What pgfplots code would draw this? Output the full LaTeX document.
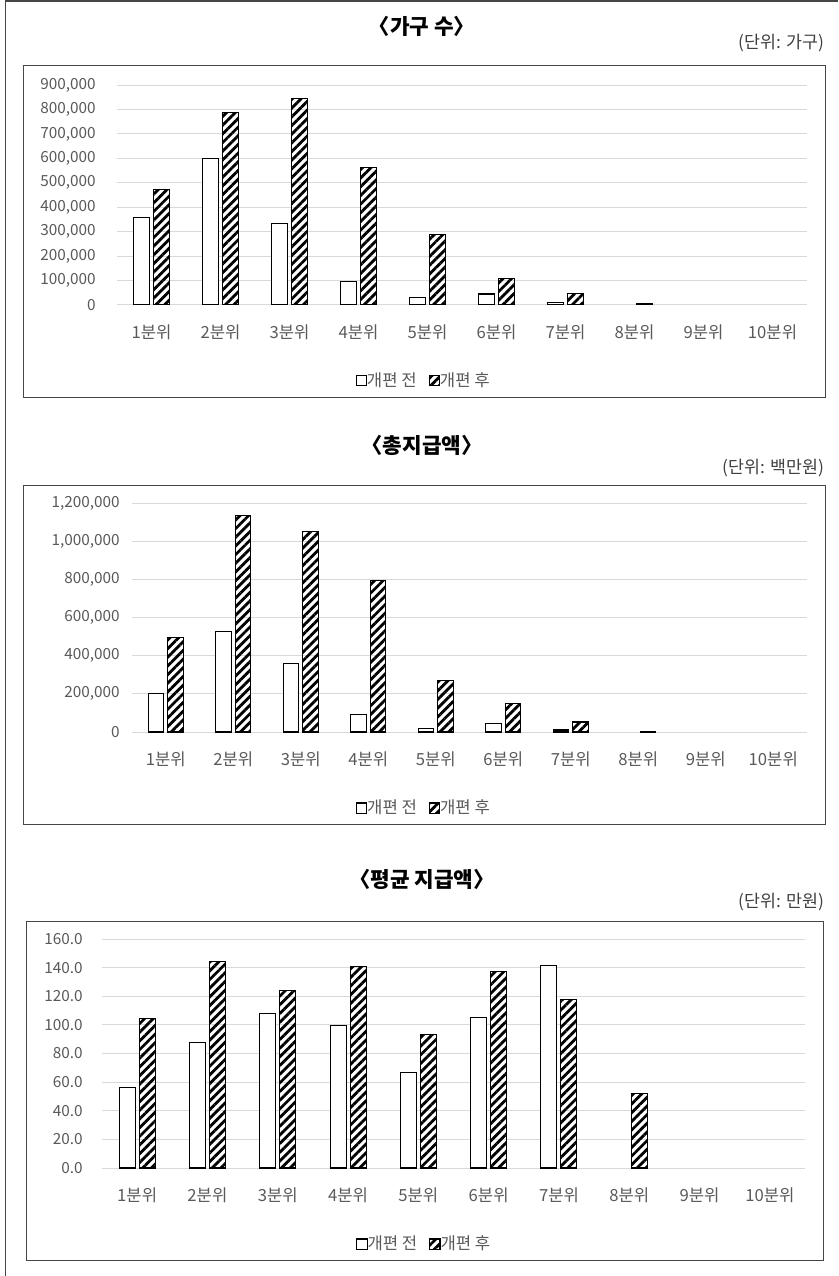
\documentclass[border=0pt]{standalone}
\usepackage{fontspec}
\setmainfont{Noto Sans CJK KR}
\usepackage{pgfplots}
\pgfplotsset{compat=1.18}
\usetikzlibrary{patterns.meta}

\definecolor{gridgray}{RGB}{217,217,217}
\definecolor{labgray}{RGB}{89,89,89}
\definecolor{framegray}{RGB}{70,70,70}

% bar styles
\tikzset{
  before/.style={ybar, draw=black, line width=0.8pt, fill=white},
  after/.style={ybar, draw=black, line width=0.8pt,
    pattern={Lines[angle=45,distance=4.6pt,line width=2.1pt]}, pattern color=black},
}

\pgfplotsset{
  panel/.style={
    scale only axis,
    xmin=0.5, xmax=10.5,
    xtick={1,...,10},
    xticklabels={1분위,2분위,3분위,4분위,5분위,6분위,7분위,8분위,9분위,10분위},
    axis line style={draw=none},
    major tick length=0pt,
    ymajorgrids,
    grid style={draw=gridgray, line width=0.75pt},
    tick label style={text=labgray, inner sep=0pt},
    yticklabel style={font=\fontsize{11.5}{13}\selectfont},
    xticklabel style={font=\fontsize{12.5}{14}\selectfont, anchor=center, yshift=-20.25pt},
    scaled y ticks=false,
    /pgf/number format/assume math mode=true,
    legend columns=-1,
    legend style={draw=none, fill=none, anchor=center,
      font=\fontsize{12.5}{14}\selectfont, text=labgray,
      /tikz/every even column/.append style={column sep=7pt},
      /tikz/every odd column/.append style={column sep=-2pt}},
    legend image code/.code={\draw[#1] (0pt,-3.8pt) rectangle (7.6pt,3.8pt);},
  },
}

\begin{document}
\begin{tikzpicture}

\begin{scope}[x=0.75pt,y=-0.75pt]
  \useasboundingbox (0,0) rectangle (838,1276);
  % outer cell lines
  \draw[framegray, line width=1.5pt] (5,1) -- (838,1);
  \draw[framegray, line width=0.75pt] (5,1) -- (5,1276);
  % chart frames
  \draw[framegray, line width=0.75pt] (23,66) rectangle (825,397);
  \draw[framegray, line width=0.75pt] (23,485) rectangle (825,824);
  \draw[framegray, line width=0.75pt] (26,921) rectangle (823,1260);
  % titles and units
  \node[font=\fontsize{16}{18}\selectfont\bfseries] at (422,26) {〈가구 수〉};
  \node[anchor=east, font=\fontsize{13}{15}\selectfont, text=black!75] at (829,43) {(단위:\hspace{0.3em}가구)};
  \node[font=\fontsize{16}{18}\selectfont\bfseries] at (422,445) {〈총지급액〉};
  \node[anchor=east, font=\fontsize{13}{15}\selectfont, text=black!75] at (829,468) {(단위:\hspace{0.3em}백만원)};
  \node[font=\fontsize{16}{18}\selectfont\bfseries] at (422,879) {〈평균 지급액〉};
  \node[anchor=east, font=\fontsize{13}{15}\selectfont, text=black!75] at (829,902) {(단위:\hspace{0.3em}만원)};
\end{scope}

% ---- 가구 수 ----
\begin{axis}[panel,
  anchor=south west, at={(87.75pt,-228.75pt)},
  width=517.5pt, height=165pt,
  ymin=0, ymax=900000,
  ytick={0,100000,...,900000},
  yticklabel style={anchor=east, xshift=-15.75pt,
    /pgf/number format/.cd, fixed, 1000 sep={,}},
  legend style={at={(0.445,-0.345)}},
]
\addplot[before, bar width=12pt, bar shift=-7.35pt] coordinates {
  (1,358000) (2,599000) (3,334000) (4,95000) (5,31000) (6,45000) (7,9500)};
\addplot[after, bar width=12pt, bar shift=7.35pt] coordinates {
  (1,474000) (2,787000) (3,845000) (4,563000) (5,290000) (6,108000) (7,46000) (8,6000)};
\legend{개편 전,개편 후}
\end{axis}

% ---- 총지급액 ----
\begin{axis}[panel,
  anchor=south west, at={(99pt,-549pt)},
  width=506.25pt, height=171.75pt,
  ymin=0, ymax=1200000,
  ytick={0,200000,...,1200000},
  yticklabel style={anchor=east, xshift=-9pt,
    /pgf/number format/.cd, fixed, 1000 sep={,}},
  legend style={at={(0.433,-0.332)}},
]
\addplot[before, bar width=11.6pt, bar shift=-7.2pt] coordinates {
  (1,201000) (2,526000) (3,360000) (4,94000) (5,17500) (6,47000) (7,10500)};
\addplot[after, bar width=11.6pt, bar shift=7.2pt] coordinates {
  (1,495000) (2,1135000) (3,1049000) (4,794000) (5,269000) (6,147000) (7,52500) (8,3500)};
\legend{개편 전,개편 후}
\end{axis}

% ---- 평균 지급액 ----
\begin{axis}[panel,
  anchor=south west, at={(76.5pt,-876pt)},
  width=527.25pt, height=171.75pt,
  ymin=0, ymax=160,
  ytick={0,20,...,160},
  yticklabel style={anchor=east, xshift=-14.25pt,
    /pgf/number format/.cd, fixed, fixed zerofill, precision=1},
  legend style={at={(0.459,-0.332)}},
]
\addplot[before, bar width=12pt, bar shift=-7.5pt] coordinates {
  (1,56.2) (2,87.7) (3,107.8) (4,99.4) (5,66.5) (6,105.4) (7,141.6)};
\addplot[after, bar width=12pt, bar shift=7.5pt] coordinates {
  (1,104.5) (2,144.1) (3,124.3) (4,140.9) (5,93.1) (6,137.1) (7,117.8) (8,52.0)};
\legend{개편 전,개편 후}
\end{axis}

\end{tikzpicture}
\end{document}
